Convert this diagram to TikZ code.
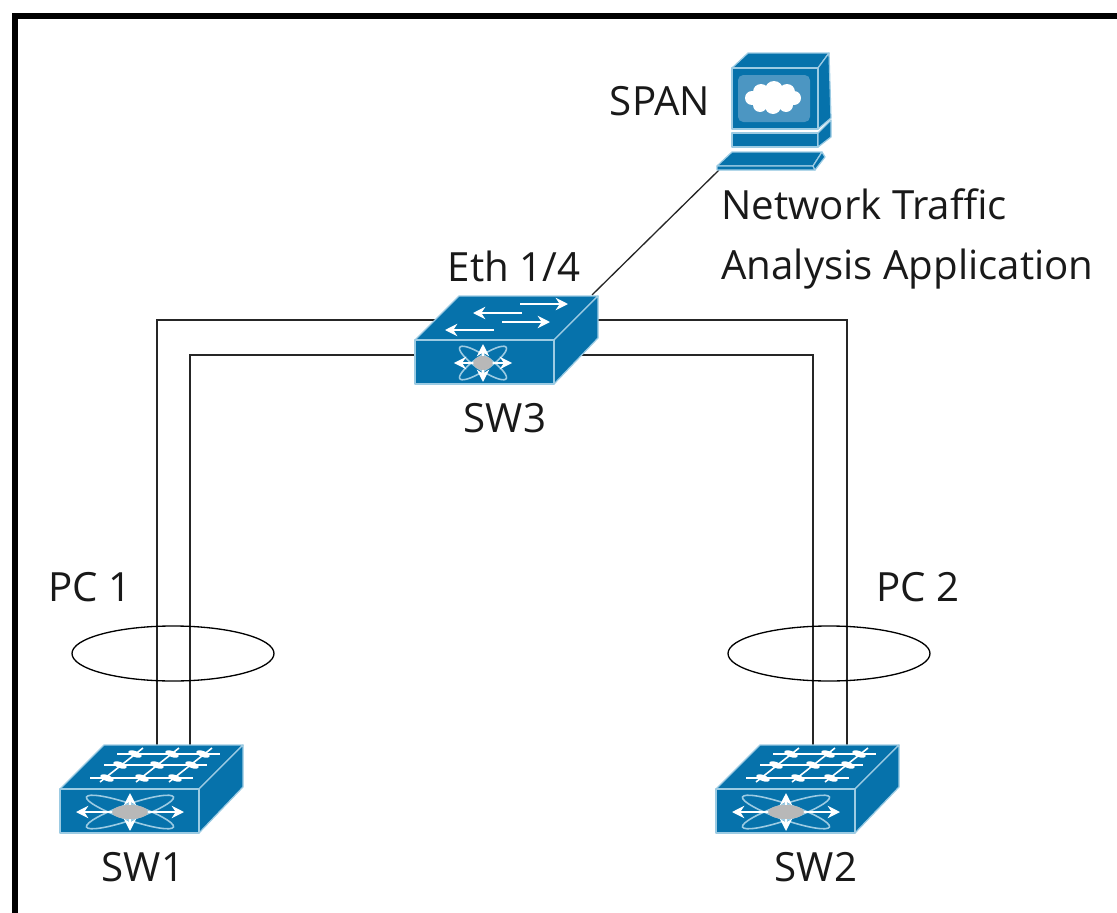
\documentclass[tikz,border=0pt]{standalone}
\usepackage{fontspec}
\setmainfont{Open Sans}
\usetikzlibrary{arrows.meta}
\definecolor{ciscoblue}{HTML}{0672AB}
\definecolor{ciscoedge}{HTML}{9CCBE3}
\definecolor{ciscoscreen}{HTML}{4C96C2}
\tikzset{
	link/.style={draw=black!85, line width=0.75pt},
	ring/.style={draw=black, line width=0.75pt},
	label/.style={font=\fontsize{22.9}{28}\selectfont, text=black!90, inner sep=0pt},
	devbox/.style={inner sep=0pt, minimum width=#1},
	body/.style={fill=ciscoblue, draw=ciscoedge, line width=0.7pt, line join=round},
	glyph/.style={draw=white, line width=0.9pt},
	flow/.style={draw=white, line width=1.3pt, -{Stealth[length=7pt,width=7pt]}},
}
\def\switchbody(#1,#2){
	\draw[body, shift={(#1,#2)}] (0,0) -- (44,-44) -- (183,-44) -- (139,0) -- cycle;
	\draw[body, shift={(#1,#2)}] (139,0) -- (183,-44) -- (183,-2) -- (139,44) -- cycle;
	\draw[body, shift={(#1,#2)}] (0,0) rectangle (139,44);
}
\def\hubstar(#1,#2)[#3]{
	\begin{scope}[shift={(#1,#2)}, xscale=#3]
		\draw[glyph, draw=ciscoedge] (0,0) [rotate=19] ellipse (46 and 8);
		\draw[glyph, draw=ciscoedge] (0,0) [rotate=-19] ellipse (46 and 8);
		\draw[flow] (0,0) -- (54,0);
		\draw[flow] (0,0) -- (-54,0);
		\draw[flow] (0,0) -- (0,19);
		\draw[flow] (0,0) -- (0,-19);
		\fill[black!28] (0,0) ellipse (18 and 7);
	\end{scope}
}
\def\gridswitch(#1,#2){
	\switchbody(#1,#2)
	\begin{scope}[shift={(#1,#2)}]
		\foreach \rowx/\rowy in {57/-35, 44/-24, 30/-11}
			\draw[glyph] (\rowx,\rowy) -- ++(103,0);
		\foreach \colx in {83, 119, 152}
			\draw[glyph] (\colx,-41) -- ++(-43,34);
		\foreach \blobx/\bloby in {75/-35, 112/-35, 143/-35, 60/-24, 97/-24, 132/-24, 47/-11, 82/-11, 115/-11}
			\fill[white, shift={(\blobx,\bloby)}, rotate=-20] (0,0) ellipse (7 and 3);
	\end{scope}
	\hubstar(#1+70,#2+23)[1]
}

\begin{document}
\begin{tikzpicture}[x=0.02cm, y=-0.02cm]
			%%%%% START %%%%%
			
			\useasboundingbox (0, 0) rectangle (1117, 913);
			\draw[line width=0.12cm] (15, 913) -- (15, 16) -- (1117, 16);
			
			\node[devbox=3.66cm, minimum height=1.76cm] (sw1) at (151.5, 789) {};
			\node[devbox=3.66cm, minimum height=1.76cm] (sw2) at (807.5, 789) {};
			\node[devbox=3.64cm, minimum height=1.8cm] (sw3) at (506, 340) {};
			\node[devbox=2.28cm, minimum height=2.34cm] (span) at (774, 111.5) {};
			
			\coordinate (sw1a) at (157, 745);
			\coordinate (sw1b) at (190, 745);
			\coordinate (sw2a) at (813, 745);
			\coordinate (sw2b) at (847, 745);
			\coordinate (sw3a) at (440, 320);
			\coordinate (sw3b) at (420, 355);
			\coordinate (sw3c) at (590, 320);
			\coordinate (sw3d) at (570, 355);
			\coordinate (spanport) at (719, 170);
			\coordinate (sw3top) at (592, 295);
			
			\draw[link] (sw1a) |- (sw3a);
			\draw[link] (sw1b) |- (sw3b);
			\draw[link] (sw2a) |- (sw3d);
			\draw[link] (sw2b) |- (sw3c);
			\draw[link] (spanport) -- (sw3top);
			
			\draw[ring] (173, 653.5) ellipse (101 and 27.5);
			\draw[ring] (829, 653.5) ellipse (101 and 27.5);
			
			\gridswitch(60,789)
			\gridswitch(716,789)
			
			\switchbody(415,340)
			\draw[flow] (520, 304) -- (568, 304);
			\draw[flow] (522, 313) -- (473, 313);
			\draw[flow] (502, 322) -- (550, 322);
			\draw[flow] (494, 330) -- (445, 330);
			\hubstar(483,363)[0.54]
			
			\draw[body] (732, 68) -- (748, 53) -- (829, 53) -- (818, 68) -- cycle;
			\draw[body] (818, 68) -- (829, 53) -- (831, 118) -- (818, 129) -- cycle;
			\draw[body] (732, 68) rectangle (818, 129);
			\draw[body] (732, 133) rectangle (818, 147);
			\draw[body] (818, 133) -- (831, 120) -- (831, 137) -- (818, 147) -- cycle;
			\fill[ciscoscreen, rounded corners=3pt] (738, 75) rectangle (810, 122);
			\foreach \cloudx/\cloudy/\cloudr in {752/98/7, 761/92/8, 774/90/9, 787/92/8, 794/98/7, 786/105/7, 773/106/8, 760/105/7}
				\fill[white] (\cloudx, \cloudy) circle (\cloudr);
			\fill[white] (773, 98) ellipse (20 and 10);
			\draw[body] (717, 166) -- (732, 152) -- (822, 152) -- (813, 166) -- cycle;
			\draw[body] (717, 166) -- (813, 166) -- (815, 170) -- (717, 170) -- cycle;
			\draw[body] (813, 166) -- (822, 152) -- (825, 157) -- (815, 170) -- cycle;
			
			\node[label] (spanlabel) at (660, 101) {SPAN};
			\node[label, anchor=west] (applabela) at (721, 204) {Network Traffic};
			\node[label, anchor=west] (applabelb) at (721, 269) {Analysis Application};
			\node[label] (sw3port) at (514, 266) {Eth 1/4};
			\node[label] (sw3label) at (505, 418) {SW3};
			\node[label] (pc1label) at (90, 587) {PC 1};
			\node[label] (pc2label) at (918, 587) {PC 2};
			\node[label] (sw1label) at (143, 867) {SW1};
			\node[label] (sw2label) at (816, 867) {SW2};
			
			%%%%% END %%%%%
		\end{tikzpicture}
\end{document}
